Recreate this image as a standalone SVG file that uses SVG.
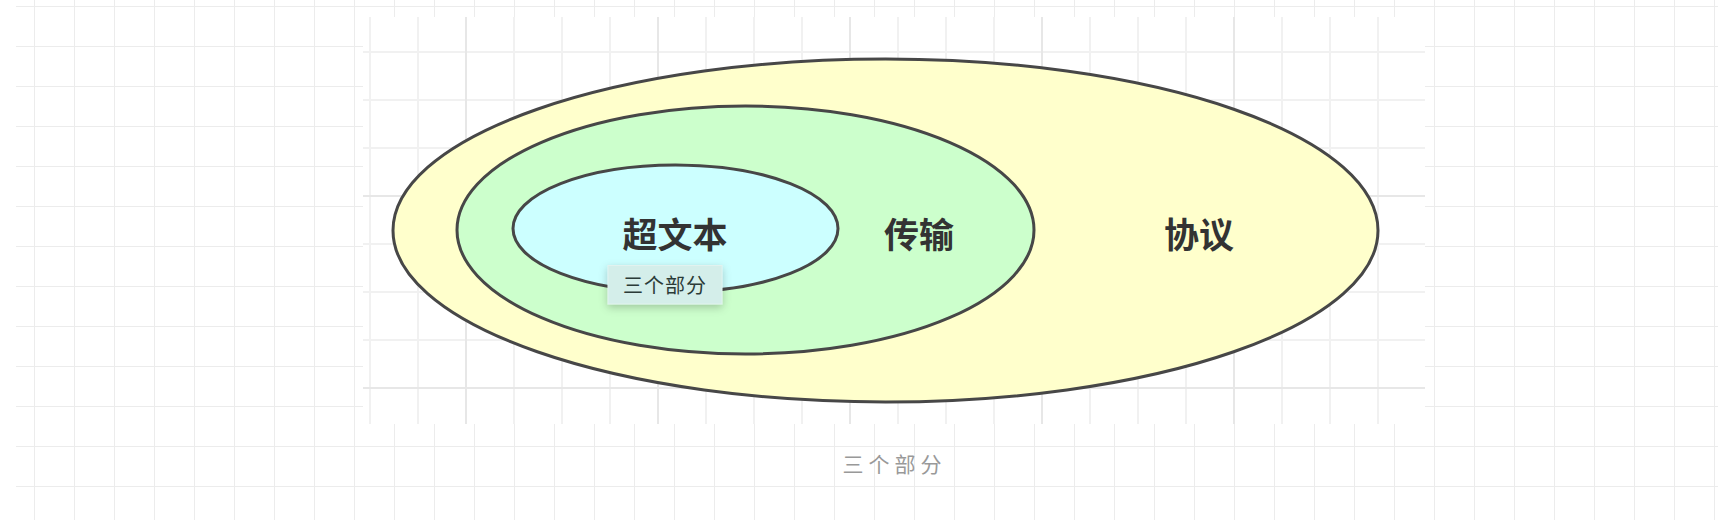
<svg xmlns="http://www.w3.org/2000/svg" width="1718" height="520" viewBox="0 0 1718 520">
  <style>
    .ell { stroke: #474747; stroke-width: 3; }
    .lbl { font-family: "Noto Sans CJK SC", "Noto Sans", sans-serif; font-weight: bold; font-size: 35px; fill: #333333; text-anchor: middle; dominant-baseline: central; }
    .tip { font-family: "Noto Sans CJK SC", "Noto Sans", sans-serif; font-size: 20px; fill: #2b3b38; text-anchor: middle; dominant-baseline: central; letter-spacing: 1px; }
    .cap { font-family: "Noto Sans CJK SC", "Noto Sans", sans-serif; font-size: 21px; fill: #999999; text-anchor: middle; dominant-baseline: central; letter-spacing: 5px; }
  </style>
  <defs>
    <pattern id="pageGrid" patternUnits="userSpaceOnUse" x="34" y="6" width="40" height="40">
      <path d="M0.5 0 V40 M0 0.5 H40" stroke="#ececec" stroke-width="1" fill="none"/>
    </pattern>
    <pattern id="panelMinor" patternUnits="userSpaceOnUse" x="369" y="3" width="48" height="48">
      <path d="M1 0 V48 M0 1 H48" stroke="#f1f1f1" stroke-width="2" fill="none"/>
    </pattern>
    <pattern id="panelMajor" patternUnits="userSpaceOnUse" x="465" y="195" width="192" height="192">
      <path d="M1 0 V192 M0 1 H192" stroke="#e7e7e7" stroke-width="2" fill="none"/>
    </pattern>
    <filter id="shadow" x="-30%" y="-40%" width="160%" height="190%">
      <feDropShadow dx="0" dy="3" stdDeviation="4" flood-color="#000000" flood-opacity="0.22"/>
    </filter>
  </defs>

  <rect width="1718" height="520" fill="#ffffff"/>
  <rect x="16" y="0" width="1702" height="520" fill="url(#pageGrid)"/>

  <g id="panel">
    <rect x="363" y="17" width="1062" height="407" fill="#ffffff"/>
    <rect x="363" y="17" width="1062" height="407" fill="url(#panelMinor)"/>
    <rect x="363" y="17" width="1062" height="407" fill="url(#panelMajor)"/>
  </g>

  <g id="protocol">
    <ellipse class="ell" cx="885.5" cy="230.5" rx="492.5" ry="171.5" fill="#ffffcc"/>
    <text class="lbl" x="1199" y="232">协议</text>
  </g>

  <g id="transfer">
    <ellipse class="ell" cx="745.5" cy="230" rx="288.5" ry="124" fill="#ccffcc"/>
    <text class="lbl" x="919" y="232">传输</text>
  </g>

  <g id="hypertext">
    <ellipse class="ell" cx="675.5" cy="228.5" rx="162.5" ry="63.5" fill="#ccffff"/>
    <text class="lbl" x="675" y="232">超文本</text>
  </g>

  <g id="connectors"/>

  <g id="tooltip">
    <rect x="608" y="265.5" width="114" height="38.5" fill="#d4eeea" stroke="#e2f2ef" stroke-width="1" filter="url(#shadow)"/>
    <text class="tip" x="665" y="284.5">三个部分</text>
  </g>

  <g id="caption">
    <text class="cap" x="894.5" y="463">三个部分</text>
  </g>
</svg>
